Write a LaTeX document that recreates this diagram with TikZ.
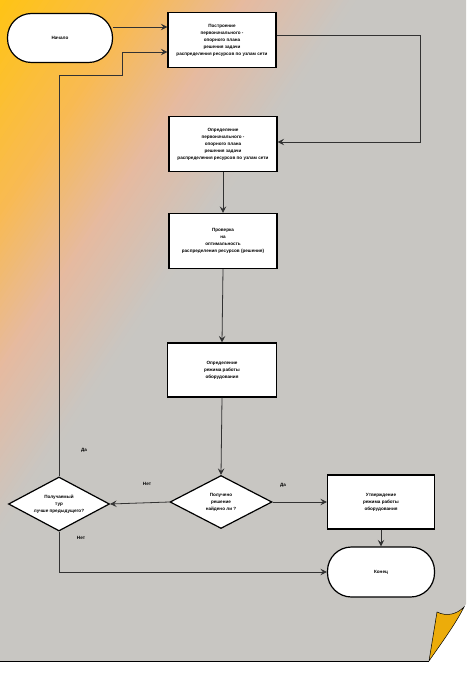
\documentclass[tikz,border=0pt]{standalone}
\usepackage{fontspec}
\setmainfont{Liberation Sans}
\usetikzlibrary{shapes.geometric,arrows.meta,calc}
\definecolor{cA}{RGB}{255,196,20}
\definecolor{cB}{RGB}{248,186,84}
\definecolor{cC}{RGB}{230,186,160}
\definecolor{cD}{RGB}{200,198,194}
\definecolor{foldc}{RGB}{236,172,10}
\definecolor{linec}{RGB}{50,50,50}
\tikzset{
  txt/.style={font=\fontsize{4.6}{7}\selectfont\bfseries, align=center},
  procbox/.style={txt, draw=black, line width=1.2pt, fill=white, minimum width=108pt, minimum height=55pt, inner sep=1pt},
  termbox/.style={txt, draw=black, line width=1.2pt, fill=white, rounded corners=24pt, minimum width=105pt, minimum height=49pt, inner sep=1pt},
  decbox/.style={txt, draw=black, line width=1.2pt, fill=white, diamond, aspect=2, minimum width=102pt, minimum height=53pt, inner sep=0pt},
  arr/.style={draw=linec, line width=0.8pt, -{Stealth[length=6.5pt,width=6.5pt,inset=2.5pt]}},
  lbl/.style={font=\fontsize{4.6}{5}\selectfont\bfseries}
}
\begin{document}
\begin{tikzpicture}[x=1pt,y=-1pt]
\useasboundingbox (0,0) rectangle (472,676);
% page background
\begin{scope}
\clip (0,0) -- (466,0) -- (466,604) -- (464,607) .. controls (457,614) and (447,617) .. (437,612) -- (429,661) -- (0,661) -- cycle;
\fill[cD] (-10,-10) rectangle (480,680);
\begin{scope}[rotate=-33.69]
\foreach \sa/\sb/\ca/\cb in {0/120/cA/cB, 120/205/cB/cC, 205/295/cC/cD} {
  \foreach \s in {0,...,19} {
    \pgfmathsetmacro\stA{\sa+(\sb-\sa)*\s/20}
    \pgfmathsetmacro\stB{\sa+(\sb-\sa)*(\s+1.3)/20}
    \pgfmathsetmacro\pc{100-100*(\s+0.5)/20}
    \fill[\ca!\pc!\cb] (\stA,-900) rectangle (\stB,900);
  }
}
\end{scope}
\end{scope}
\draw[black, line width=0.6pt] (0,661) -- (429,661);
\draw[black, line width=0.5pt, fill=foldc] (437,612) .. controls (447,617) and (457,614) .. (464,607) .. controls (455,625) and (440,645) .. (429,661) -- cycle;

% nodes
\node[termbox] (start) at (60,38) {Начало};
\node[procbox] (b1) at (222,40) {Построение\\первоначального -\\опорного плана\\решения задачи\\распределения ресурсов по узлам сети};
\node[procbox] (b2) at (223,144) {Определение\\первоначального -\\опорного плана\\решения задачи\\распределения ресурсов по узлам сети};
\node[procbox] (b3) at (223,241) {Проверка\\на\\оптимальность\\распределения ресурсов (решения)};
\node[procbox, minimum height=54pt, minimum width=109pt] (b4) at (222,370) {Определение\\режима работы\\оборудования};
\node[decbox] (dR) at (221,502) {Получено\\решение\\найдено ли ?};
\node[decbox, minimum width=101pt, minimum height=54pt] (dL) at (59,504) {Получаемый\\тур\\лучше предыдущего?};
\node[procbox, minimum width=107pt, minimum height=54pt] (b5) at (381,502) {Утверждение\\режима работы\\оборудования};
\node[termbox, minimum width=107pt, minimum height=50pt] (end) at (381,572) {Конец};

% helper coordinates
\coordinate (b1inA) at ([yshift=11pt]start.east -| b1.west);
\coordinate (b1inB) at ([yshift=-12pt]b1.west);
\coordinate (lpA) at (122,75);
\coordinate (b1out) at ([yshift=5pt]b1.east);
\coordinate (rtc) at (420,35);
\coordinate (b2in) at ([yshift=2pt]b2.east);

% connectors
\draw[arr] ([yshift=11pt]start.east) -- (b1inA);
\draw[arr] (dL.north) |- (lpA) -- (lpA |- b1inB) -- (b1inB);
\draw[arr] (b1out) -- (rtc) -- (rtc |- b2in) -- (b2in);
\draw[arr] (b2.south) -- (b3.north);
\draw[arr] (b3.south) -- (b4.north);
\draw[arr] (b4.south) -- (dR.north);
\draw[arr] (dR.west) -- (dL.east);
\draw[arr] (dR.east) -- (b5.west);
\draw[arr] (b5.south) -- (end.north);
\draw[arr] (dL.south) |- (end.west);

% labels
\node[lbl] (l1) at (84,450) {Да};
\node[lbl] (l2) at (147,484) {Нет};
\node[lbl] (l3) at (283,485) {Да};
\node[lbl] (l4) at (81,538) {Нет};
\end{tikzpicture}
\end{document}
